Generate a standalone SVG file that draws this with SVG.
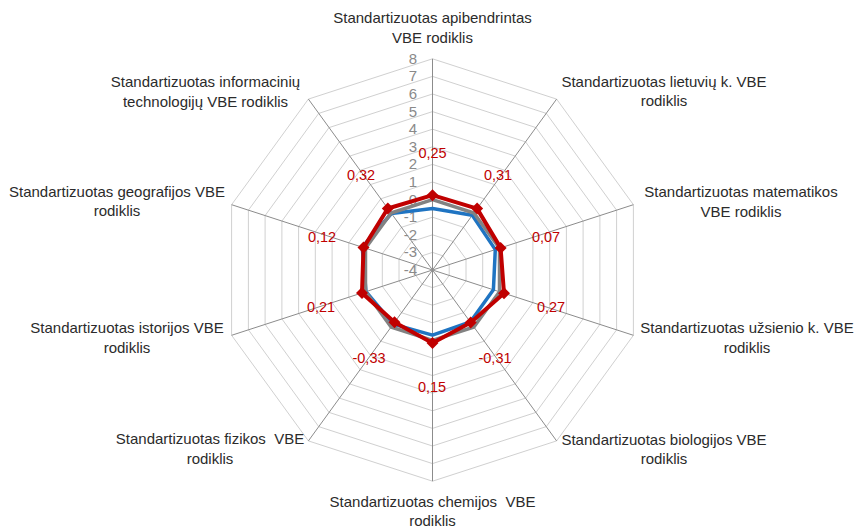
<svg xmlns="http://www.w3.org/2000/svg" width="854" height="528" viewBox="0 0 854 528">
<style>
.ring{fill:none;stroke:#d0d0d0;stroke-width:1}
.axis{stroke:#8c8c8c;stroke-width:1}
.tick{font-family:"Liberation Sans",Arial,sans-serif;font-size:15px;fill:#8a8a8a;text-anchor:end}
.dl{font-family:"Liberation Sans",Arial,sans-serif;font-size:14.5px;fill:#c00000;text-anchor:middle}
.cat{font-family:"Liberation Sans",Arial,sans-serif;font-size:15px;fill:#2b2b2b;text-anchor:middle}
</style>
<defs>
<marker id="dia" markerUnits="userSpaceOnUse" markerWidth="14" markerHeight="14" refX="7" refY="7" orient="0">
<polygon points="7,1 13,7 7,13 1,7" fill="#c00000"/>
</marker>
</defs>
<rect width="854" height="528" fill="#ffffff"/>
<g id="grid" transform="translate(432.5,270)">
<polygon class="ring" points="0,-17.6 10.3,-14.2 16.7,-5.4 16.7,5.4 10.3,14.2 0,17.6 -10.3,14.2 -16.7,5.4 -16.7,-5.4 -10.3,-14.2"/>
<polygon class="ring" points="0,-35.2 20.7,-28.5 33.5,-10.9 33.5,10.9 20.7,28.5 0,35.2 -20.7,28.5 -33.5,10.9 -33.5,-10.9 -20.7,-28.5"/>
<polygon class="ring" points="0,-52.8 31.0,-42.7 50.2,-16.3 50.2,16.3 31.0,42.7 0,52.8 -31.0,42.7 -50.2,16.3 -50.2,-16.3 -31.0,-42.7"/>
<polygon class="ring" points="0,-70.4 41.4,-57.0 67.0,-21.8 67.0,21.8 41.4,57.0 0,70.4 -41.4,57.0 -67.0,21.8 -67.0,-21.8 -41.4,-57.0"/>
<polygon class="ring" points="0,-88 51.7,-71.2 83.7,-27.2 83.7,27.2 51.7,71.2 0,88 -51.7,71.2 -83.7,27.2 -83.7,-27.2 -51.7,-71.2"/>
<polygon class="ring" points="0,-105.6 62.1,-85.4 100.4,-32.6 100.4,32.6 62.1,85.4 0,105.6 -62.1,85.4 -100.4,32.6 -100.4,-32.6 -62.1,-85.4"/>
<polygon class="ring" points="0,-123.2 72.4,-99.7 117.2,-38.1 117.2,38.1 72.4,99.7 0,123.2 -72.4,99.7 -117.2,38.1 -117.2,-38.1 -72.4,-99.7"/>
<polygon class="ring" points="0,-140.8 82.8,-113.9 133.9,-43.5 133.9,43.5 82.8,113.9 0,140.8 -82.8,113.9 -133.9,43.5 -133.9,-43.5 -82.8,-113.9"/>
<polygon class="ring" points="0,-158.4 93.1,-128.1 150.6,-48.9 150.6,48.9 93.1,128.1 0,158.4 -93.1,128.1 -150.6,48.9 -150.6,-48.9 -93.1,-128.1"/>
<polygon class="ring" points="0,-176 103.5,-142.4 167.4,-54.4 167.4,54.4 103.5,142.4 0,176 -103.5,142.4 -167.4,54.4 -167.4,-54.4 -103.5,-142.4"/>
<polygon class="ring" points="0,-193.6 113.8,-156.6 184.1,-59.8 184.1,59.8 113.8,156.6 0,193.6 -113.8,156.6 -184.1,59.8 -184.1,-59.8 -113.8,-156.6"/>
<polygon class="ring" points="0,-211.2 124.1,-170.9 200.9,-65.3 200.9,65.3 124.1,170.9 0,211.2 -124.1,170.9 -200.9,65.3 -200.9,-65.3 -124.1,-170.9"/>
</g>
<g id="axes" transform="translate(432.5,270)">
<line class="axis" x1="0" y1="0" x2="0" y2="-211.2"/>
<line class="axis" x1="0" y1="0" x2="124.1" y2="-170.9"/>
<line class="axis" x1="0" y1="0" x2="200.9" y2="-65.3"/>
<line class="axis" x1="0" y1="0" x2="200.9" y2="65.3"/>
<line class="axis" x1="0" y1="0" x2="124.1" y2="170.9"/>
<line class="axis" x1="0" y1="0" x2="0" y2="211.2"/>
<line class="axis" x1="0" y1="0" x2="-124.1" y2="170.9"/>
<line class="axis" x1="0" y1="0" x2="-200.9" y2="65.3"/>
<line class="axis" x1="0" y1="0" x2="-200.9" y2="-65.3"/>
<line class="axis" x1="0" y1="0" x2="-124.1" y2="-170.9"/>
</g>
<g id="tick-labels">
<text class="tick" x="417" y="64">8</text>
<text class="tick" x="417" y="81.4">7</text>
<text class="tick" x="417" y="99">6</text>
<text class="tick" x="417" y="116.6">5</text>
<text class="tick" x="417" y="134.2">4</text>
<text class="tick" x="417" y="151.8">3</text>
<text class="tick" x="417" y="169.4">2</text>
<text class="tick" x="417" y="187">1</text>
<text class="tick" x="417" y="204.6">0</text>
<text class="tick" x="417" y="222.2">-1</text>
<text class="tick" x="417" y="239.8">-2</text>
<text class="tick" x="417" y="257.4">-3</text>
<text class="tick" x="417" y="275">-4</text>
</g>
<g id="series" transform="translate(432.5,270)">
<polygon id="series-blue" fill="none" stroke="#1f74c2" stroke-width="3.5" stroke-linejoin="round" points="0,-61.6 39.8,-54.8 62.8,-20.4 60.9,19.8 37.8,52.0 0,65.1 -39.3,54.1 -66.5,21.6 -70.3,-22.8 -41.1,-56.5"/>
<polygon id="series-gray" fill="none" stroke="#828282" stroke-width="3.5" stroke-linejoin="round" points="0,-70.4 41.4,-57.0 67.0,-21.8 67.0,21.8 41.4,57.0 0,70.4 -41.4,57.0 -67.0,21.8 -67.0,-21.8 -41.4,-57.0"/>
<polygon id="series-red" fill="none" stroke="#c00000" stroke-width="4" stroke-linejoin="round" marker-start="url(#dia)" marker-mid="url(#dia)" points="0,-74.8 44.6,-61.4 68.1,-22.1 71.5,23.2 38.2,52.5 0,73.0 -38.0,52.3 -70.5,22.9 -69.0,-22.4 -44.7,-61.5"/>
</g>
<g id="data-labels">
<text class="dl" x="432.5" y="158">0,25</text>
<text class="dl" x="498" y="180">0,31</text>
<text class="dl" x="546" y="242">0,07</text>
<text class="dl" x="551" y="312">0,27</text>
<text class="dl" x="495" y="363">-0,31</text>
<text class="dl" x="432" y="392">0,15</text>
<text class="dl" x="369" y="363">-0,33</text>
<text class="dl" x="321" y="312">0,21</text>
<text class="dl" x="322" y="242">0,12</text>
<text class="dl" x="361" y="180">0,32</text>
</g>
<g id="node-apibendrintas"><text class="cat" x="432.5" y="23">Standartizuotas apibendrintas</text><text class="cat" x="432.5" y="43">VBE rodiklis</text></g>
<g id="node-lietuviu"><text class="cat" x="664" y="87">Standartizuotas lietuvių k. VBE</text><text class="cat" x="664" y="106">rodiklis</text></g>
<g id="node-matematikos"><text class="cat" x="741" y="197">Standartizuotas matematikos</text><text class="cat" x="741" y="217">VBE rodiklis</text></g>
<g id="node-uzsienio"><text class="cat" x="747" y="333">Standartizuotas užsienio k. VBE</text><text class="cat" x="747" y="353">rodiklis</text></g>
<g id="node-biologijos"><text class="cat" x="664" y="445">Standartizuotas biologijos VBE</text><text class="cat" x="664" y="464">rodiklis</text></g>
<g id="node-chemijos"><text class="cat" x="432.5" y="507" xml:space="preserve">Standartizuotas chemijos  VBE</text><text class="cat" x="432.5" y="526">rodiklis</text></g>
<g id="node-fizikos"><text class="cat" x="210" y="444" xml:space="preserve">Standartizuotas fizikos  VBE</text><text class="cat" x="210" y="464">rodiklis</text></g>
<g id="node-istorijos"><text class="cat" x="127" y="333">Standartizuotas istorijos VBE</text><text class="cat" x="127" y="353">rodiklis</text></g>
<g id="node-geografijos"><text class="cat" x="117" y="197">Standartizuotas geografijos VBE</text><text class="cat" x="117" y="216">rodiklis</text></g>
<g id="node-informaciniu"><text class="cat" x="205.5" y="87">Standartizuotas informacinių</text><text class="cat" x="205.5" y="107">technologijų VBE rodiklis</text></g>
</svg>
